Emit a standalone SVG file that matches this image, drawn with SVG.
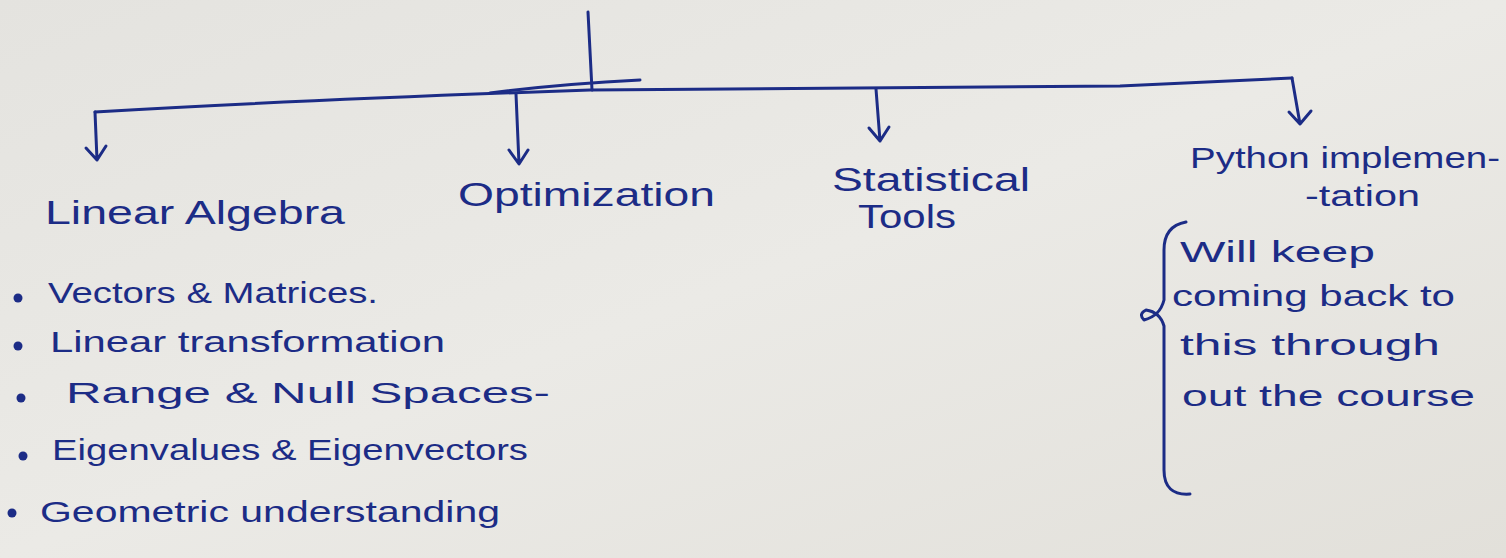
<svg xmlns="http://www.w3.org/2000/svg" width="1506" height="558" viewBox="0 0 1506 558">
<defs>
<linearGradient id="paper" x1="0" y1="0" x2="1" y2="1">
<stop offset="0" stop-color="#e4e3df"/>
<stop offset="0.5" stop-color="#ebeae6"/>
<stop offset="1" stop-color="#e2e0da"/>
</linearGradient>
<style>
.ink{fill:none;stroke:#1c2c86;stroke-width:3;stroke-linecap:round;stroke-linejoin:round}
.t{font-family:"Liberation Sans","DejaVu Sans",sans-serif;fill:#1c2c86;font-size:34px}
.p{font-family:"Liberation Sans","DejaVu Sans",sans-serif;fill:#1c2c86;font-size:30px}
.s{font-family:"Liberation Sans","DejaVu Sans",sans-serif;fill:#1c2c86;font-size:30px}
.dot{fill:#1c2c86}
</style>
</defs>
<rect width="1506" height="558" fill="url(#paper)"/>
<g id="connectors">
<path class="ink" d="M588 12 L592 90"/>
<path class="ink" d="M490 93 Q560 84 640 80"/>
<path class="ink" d="M95 112 Q300 100 590 90 L1120 86 Q1200 82 1292 78"/>
<path class="ink" d="M95 112 L97 160 M86 148 L97 160 L106 146"/>
<path class="ink" d="M516 94 L519 164 M509 150 L519 164 L528 150"/>
<path class="ink" d="M876 89 L880 141 M869 128 L880 141 L889 127"/>
<path class="ink" d="M1292 78 L1300 124 M1289 112 L1300 124 L1311 111"/>
</g>
<g id="linear-algebra">
<text class="t" x="45" y="224" textLength="300" lengthAdjust="spacingAndGlyphs">Linear Algebra</text>
<circle class="dot" cx="18" cy="298" r="4.5"/>
<text class="s" x="48" y="303" textLength="330" lengthAdjust="spacingAndGlyphs">Vectors &amp; Matrices.</text>
<circle class="dot" cx="18" cy="346" r="4.5"/>
<text class="s" x="50" y="352" textLength="395" lengthAdjust="spacingAndGlyphs">Linear transformation</text>
<circle class="dot" cx="21" cy="398" r="4.5"/>
<text class="s" x="66" y="403" textLength="484" lengthAdjust="spacingAndGlyphs">Range &amp; Null Spaces-</text>
<circle class="dot" cx="23" cy="456" r="4.5"/>
<text class="s" x="52" y="460" textLength="476" lengthAdjust="spacingAndGlyphs">Eigenvalues &amp; Eigenvectors</text>
<circle class="dot" cx="12" cy="513" r="4.5"/>
<text class="s" x="40" y="522" textLength="460" lengthAdjust="spacingAndGlyphs">Geometric understanding</text>
</g>
<g id="optimization">
<text class="t" x="458" y="206" textLength="257" lengthAdjust="spacingAndGlyphs">Optimization</text>
</g>
<g id="statistical-tools">
<text class="t" x="832" y="191" textLength="198" lengthAdjust="spacingAndGlyphs">Statistical</text>
<text class="t" x="858" y="228" textLength="98" lengthAdjust="spacingAndGlyphs">Tools</text>
</g>
<g id="python">
<text class="p" x="1190" y="168" textLength="310" lengthAdjust="spacingAndGlyphs">Python implemen-</text>
<text class="p" x="1305" y="206" textLength="115" lengthAdjust="spacingAndGlyphs">-tation</text>
<path class="ink" d="M1186 222 Q1164 226 1164 250 L1164 300 Q1160 316 1144 320 Q1138 314 1146 310 Q1160 312 1164 326 L1164 470 Q1164 496 1190 494"/>
<text class="s" x="1180" y="262" textLength="195" lengthAdjust="spacingAndGlyphs">Will keep</text>
<text class="s" x="1172" y="306" textLength="283" lengthAdjust="spacingAndGlyphs">coming back to</text>
<text class="s" x="1180" y="355" textLength="260" lengthAdjust="spacingAndGlyphs">this through</text>
<text class="s" x="1182" y="406" textLength="293" lengthAdjust="spacingAndGlyphs">out the course</text>
</g>
</svg>
